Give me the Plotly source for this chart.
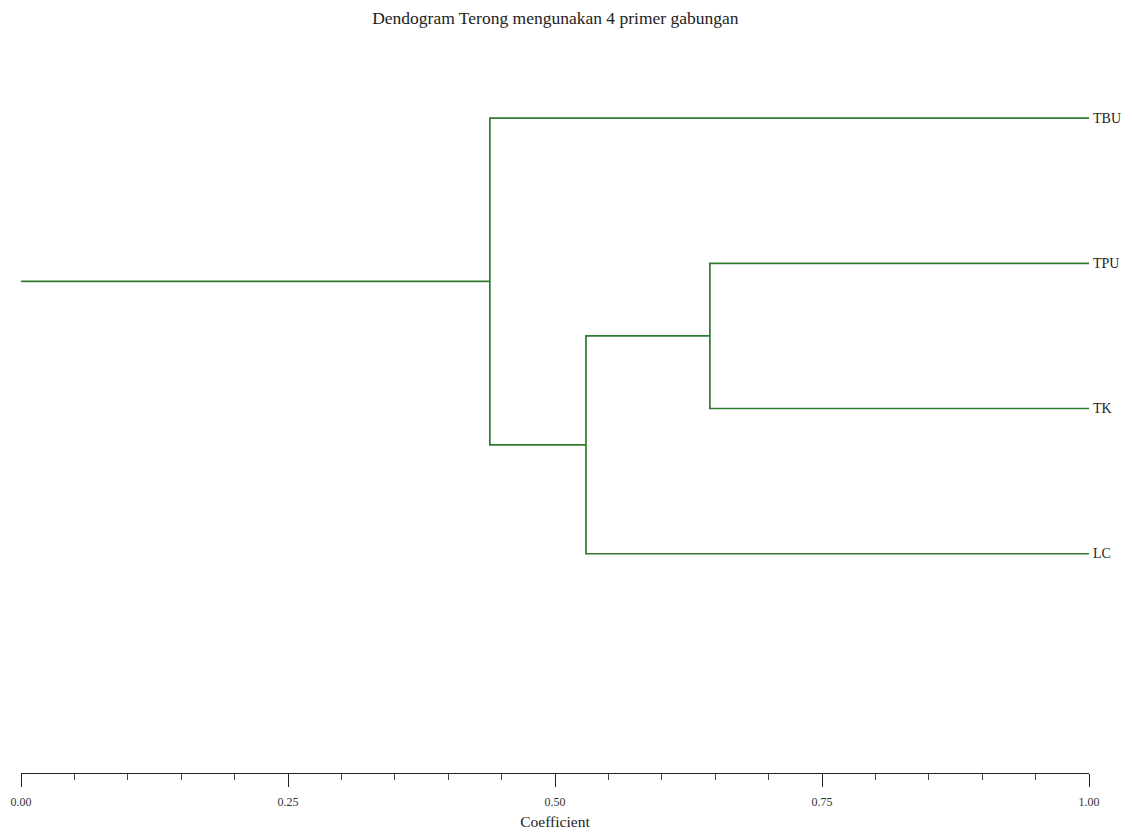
import plotly.graph_objects as go

title = "Dendogram Terong mengunakan 4 primer gabungan"
leaves = ["TBU", "TPU", "TK", "LC"]          # top to bottom
# merges: (left member, right member, coefficient); members are leaf names or merge ids "m0","m1"...
merges = [("TPU", "TK", 0.645), ("m0", "LC", 0.529), ("TBU", "m1", 0.439)]
leaf_coef = 1.0
root_coef = 0.0
tick_vals = [0.0, 0.25, 0.5, 0.75, 1.0]
tick_text = ["0.00", "0.25", "0.50", "0.75", "1.00"]
x_title = "Coefficient"

line_color = "#2f7a2f"

pos = {name: (i, leaf_coef) for i, name in enumerate(leaves)}
seg_x, seg_y = [], []
for k, (a, b, c) in enumerate(merges):
    ya, xa = pos[a]
    yb, xb = pos[b]
    seg_x += [xa, c, c, xb, None]
    seg_y += [ya, ya, yb, yb, None]
    pos[f"m{k}"] = ((ya + yb) / 2, c)
ry, rx = pos[f"m{len(merges)-1}"]
seg_x += [rx, root_coef, None]
seg_y += [ry, ry, None]

fig = go.Figure()
fig.add_trace(go.Scatter(x=seg_x, y=seg_y, mode="lines",
                         line=dict(color=line_color, width=1.7),
                         hoverinfo="skip", showlegend=False, cliponaxis=False))

for i, name in enumerate(leaves):
    fig.add_annotation(x=leaf_coef, y=i, xref="x", yref="y", text=name,
                       showarrow=False, xanchor="left", yanchor="middle", xshift=2,
                       font=dict(family="Liberation Serif", size=14, color="#222"))

fig.update_layout(
    width=1124, height=831,
    margin=dict(l=13, r=43, t=52, b=66, autoexpand=False),
    paper_bgcolor="white", plot_bgcolor="white",
    title=dict(text=title, x=0.487, xanchor="center", y=0.988, yanchor="middle",
               font=dict(family="Liberation Serif", size=17.5, color="#222")),
    xaxis=dict(range=[0, 1], tickvals=tick_vals, ticktext=tick_text, automargin=False,
               showline=True, linecolor="#222", linewidth=1.2, showgrid=False, zeroline=False,
               ticks="outside", ticklen=13, tickwidth=1.2, tickcolor="#222",
               ticklabelstandoff=4,
               tickfont=dict(family="Liberation Serif", size=12, color="#333"),
               minor=dict(dtick=0.05, tick0=0, ticks="outside", ticklen=6, tickcolor="#444", tickwidth=1, showgrid=False),
               title=dict(text=x_title, standoff=8,
                          font=dict(family="Liberation Serif", size=15.5, color="#222"))),
    yaxis=dict(range=[4.51, -0.40], visible=False),
)

fig.write_html("out.html")
